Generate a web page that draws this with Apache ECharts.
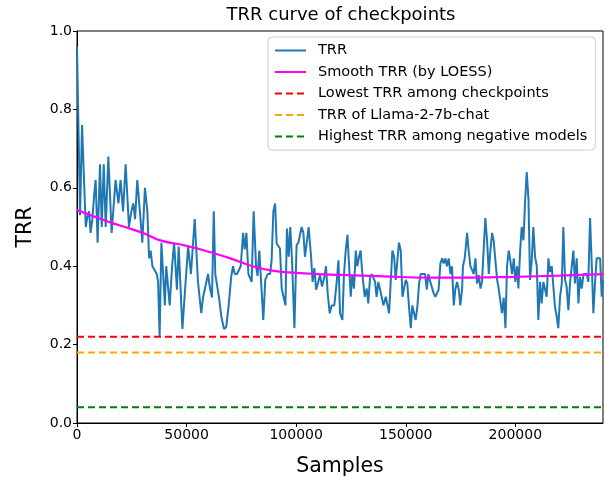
<!DOCTYPE html>
<html>
<head>
<meta charset="utf-8">
<script src="https://cdn.jsdelivr.net/npm/echarts@6/dist/echarts.min.js"></script>
<style>html,body{margin:0;padding:0;background:#fff}#c{width:605px;height:477px}</style>
</head>
<body>
<div id="c"></div>
<script>
const samples = [
0,1400,2300,3200,4000,4700,5500,6200,7000,7800,8500,9400,10500,11300,12200,13100,14300,15800,17600,18900,19900,21000,22200,23700,24800,25700,26500,27500,28700,29800,31000,32100,32900,33600,34400,35100,36400,37000,37700,38500,39400,40100,40700,
42300,43400,44300,45600,46400,48100,49300,50700,52000,53700,55200,56000,56700,57500,59800,60500,61600,62400,63100,64000,64800,65900,67100,68100,69200,70400,71200,72000,73000,73900,74700,75800,76500,77300,78200,79700,80600,
81700,82400,83200,84000,85000,85900,87000,88100,88800,89600,90400,91100,91900,92600,93400,94200,95100,95800,96600,97300,98100,99200,100200,101000,101800,102500,103300,104000,104800,105700,106800,107500,108300,109100,109800,110900,111800,112900,113600,114400,115300,116200,117400,118500,119300,120000,
121100,121800,122600,123400,124100,124900,125600,126400,127200,127900,128700,129400,130200,131300,132200,132900,133700,134500,135200,136000,136700,137500,138300,139000,139800,140900,141600,142400,143100,143900,144700,145400,146200,146900,147700,148500,149200,150000,150700,151500,152300,153000,153800,154500,155300,156100,156800,157600,158800,159600,160300,
161200,162000,162800,163500,164300,165000,165800,166600,167300,168100,168800,169600,170400,171100,171900,172600,173400,174200,174900,175700,176100,176900,178000,178700,179500,180300,181000,181800,182500,183300,184100,184800,185600,186300,187100,187900,188600,189400,190100,190900,191700,192400,193200,193900,194700,195500,196200,197000,197700,198500,199300,200000,200800,
201400,202200,202900,203700,204400,205200,206000,206700,207500,208200,209000,209800,210500,211300,212000,212800,213600,214300,215100,215800,216600,217400,218100,218900,219600,220400,221200,221900,222700,223400,224200,225000,225700,226500,227200,228000,228800,229500,230300,231100,231800,232600,233300,234100,234900,235600,236400,237100,237900,238700,239400,240000
];
const trr = [
0.96,0.53,0.76,0.62,0.50,0.525,0.54,0.485,0.52,0.58,0.62,0.46,0.66,0.50,0.66,0.50,0.68,0.485,0.62,0.56,0.62,0.54,0.66,0.50,0.54,0.56,0.52,0.62,0.54,0.46,0.60,0.54,0.42,0.44,0.40,0.40,0.38,0.36,0.22,0.46,0.37,0.30,0.40,
0.30,0.40,0.46,0.34,0.45,0.24,0.34,0.45,0.38,0.52,0.36,0.36,0.28,0.32,0.38,0.35,0.32,0.54,0.38,0.38,0.32,0.27,0.24,0.245,0.30,0.375,0.40,0.38,0.38,0.38,0.40,0.485,0.443,0.485,0.38,0.36,0.54,
0.40,0.375,0.44,0.36,0.263,0.365,0.38,0.38,0.415,0.54,0.56,0.458,0.46,0.445,0.343,0.34,0.30,0.496,0.424,0.50,0.415,0.242,0.454,0.46,0.46,0.50,0.485,0.424,0.458,0.50,0.424,0.36,0.395,0.34,0.34,0.377,0.348,0.373,0.40,0.33,0.28,0.30,0.30,0.36,0.415,0.28,
0.263,0.377,0.44,0.48,0.407,0.322,0.377,0.343,0.44,0.40,0.424,0.44,0.38,0.322,0.343,0.305,0.37,0.38,0.38,0.36,0.322,0.36,0.36,0.322,0.30,0.322,0.322,0.28,0.356,0.44,0.424,0.365,0.415,0.46,0.44,0.322,0.343,0.365,0.356,0.296,0.242,0.30,0.28,0.263,0.296,0.356,0.38,0.38,0.38,0.34,0.38,
0.36,0.356,0.33,0.322,0.322,0.34,0.407,0.42,0.407,0.42,0.40,0.42,0.38,0.40,0.30,0.34,0.36,0.34,0.30,0.34,0.40,0.42,0.485,0.44,0.40,0.39,0.38,0.42,0.356,0.377,0.343,0.36,0.36,0.523,0.466,0.38,0.44,0.485,0.466,0.415,0.365,0.343,0.34,0.28,0.32,0.242,0.40,0.44,0.415,0.38,0.42,0.36,0.40,
0.343,0.44,0.50,0.466,0.56,0.64,0.57,0.365,0.415,0.50,0.424,0.40,0.263,0.36,0.305,0.36,0.36,0.322,0.42,0.385,0.40,0.40,0.296,0.271,0.242,0.322,0.356,0.50,0.365,0.348,0.288,0.36,0.36,0.44,0.356,0.42,0.305,0.373,0.343,0.38,0.38,0.38,0.36,0.523,0.40,0.28,0.36,0.42,0.42,0.42,0.322,0.365
];
const smoothSamples = [0,15000,20000,30000,38000,50000,60000,70000,80000,90000,100000,110000,120000,140000,160000,180000,200000,220000,240000];
const smoothTrr = [0.543,0.512,0.503,0.485,0.466,0.452,0.437,0.42,0.40,0.388,0.383,0.380,0.378,0.374,0.371,0.371,0.373,0.376,0.380];
const refX = [0, 240000];
const lowestTrr = 0.22;
const llamaTrr = 0.18;
const negTrr = 0.04;
const xTicks = [0, 50000, 100000, 150000, 200000];
const yTicks = [0, 0.2, 0.4, 0.6, 0.8, 1.0];
const seriesNames = ['TRR', 'Smooth TRR (by LOESS)', 'Lowest TRR among checkpoints', 'TRR of Llama-2-7b-chat', 'Highest TRR among negative models'];

const pairs = (xs, ys) => xs.map((x, i) => [x, ys[i]]);
const flat = (v) => refX.map(x => [x, v]);
const FONT = 'DejaVu Sans';

const chart = echarts.init(document.getElementById('c'), null, {renderer: 'canvas'});
chart.setOption({
  animation: false,
  backgroundColor: '#fff',
  title: {
    text: 'TRR curve of checkpoints',
    left: 336, top: 1, textAlign: 'center',
    textStyle: {fontFamily: FONT, fontSize: 18, fontWeight: 'normal', color: '#000'}
  },
  grid: {left: 77, right: 2, top: 31, bottom: 54, outerBoundsMode: 'none', containLabel: false, show: true, borderColor: '#000', borderWidth: 1, backgroundColor: 'transparent'},
  legend: {
    orient: 'vertical', left: 268, top: 37,
    itemWidth: 31, itemHeight: 14, itemGap: 6.5,
    padding: [6, 8, 6, 6],
    itemStyle: {opacity: 0},
    backgroundColor: 'rgba(255,255,255,0.85)', borderColor: '#cccccc', borderWidth: 1, borderRadius: 4,
    textStyle: {fontFamily: FONT, fontSize: 14.5, lineHeight: 14, color: '#000', padding: [0, 0, 0, 7]},
    data: seriesNames
  },
  xAxis: {
    type: 'value', min: 0, max: 240000, interval: 50000,
    name: 'Samples', nameLocation: 'middle', nameGap: 33,
    nameTextStyle: {fontFamily: FONT, fontSize: 20.5, color: '#000'},
    axisLine: {show: true, lineStyle: {color: '#000', width: 1}},
    axisTick: {show: true, length: 4, lineStyle: {color: '#000'}, customValues: xTicks},
    axisLabel: {fontFamily: FONT, fontSize: 14, color: '#000', margin: 5, customValues: xTicks, formatter: v => String(v)},
    splitLine: {show: false}
  },
  yAxis: {
    type: 'value', min: 0, max: 1, interval: 0.2,
    name: 'TRR', nameLocation: 'middle', nameGap: 41,
    nameTextStyle: {fontFamily: FONT, fontSize: 20.5, color: '#000'},
    axisLine: {show: true, lineStyle: {color: '#000', width: 1}},
    axisTick: {show: true, length: 4, lineStyle: {color: '#000'}, customValues: yTicks},
    axisLabel: {fontFamily: FONT, fontSize: 14, color: '#000', margin: 5, customValues: yTicks, formatter: v => v.toFixed(1)},
    splitLine: {show: false}
  },
  series: [
    {name: seriesNames[0], type: 'line', symbol: 'none', data: pairs(samples, trr), lineStyle: {color: '#1f77b4', width: 2}, itemStyle: {color: '#1f77b4'}, z: 3},
    {name: seriesNames[1], type: 'line', symbol: 'none', smooth: true, data: pairs(smoothSamples, smoothTrr), lineStyle: {color: '#ff00ff', width: 2.2}, itemStyle: {color: '#ff00ff'}, z: 4},
    {name: seriesNames[2], type: 'line', symbol: 'none', data: flat(lowestTrr), lineStyle: {color: '#ff0000', width: 2, type: [7, 4]}, itemStyle: {color: '#ff0000'}},
    {name: seriesNames[3], type: 'line', symbol: 'none', data: flat(llamaTrr), lineStyle: {color: '#ffa500', width: 2, type: [7, 4]}, itemStyle: {color: '#ffa500'}},
    {name: seriesNames[4], type: 'line', symbol: 'none', data: flat(negTrr), lineStyle: {color: '#008000', width: 2, type: [7, 4]}, itemStyle: {color: '#008000'}}
  ]
});
</script>
</body>
</html>
